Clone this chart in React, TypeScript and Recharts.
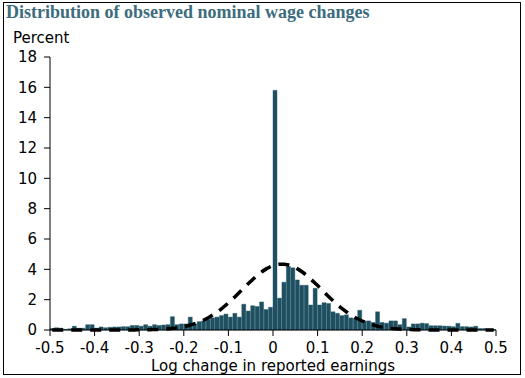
import React from "react";
import { ComposedChart, Bar, Line, XAxis, YAxis } from "recharts";

// bins of width 0.01 from -0.50 to 0.49 (left edges), values in percent
const binShares = [
  0.1, 0.15, 0.12, 0.05, 0.08, 0.25, 0.12, 0.12, 0.35, 0.35,
  0.12, 0.2, 0.15, 0.18, 0.2, 0.2, 0.22, 0.22, 0.3, 0.3,
  0.25, 0.35, 0.25, 0.35, 0.3, 0.33, 0.35, 0.88, 0.35, 0.4,
  0.4, 0.85, 0.4, 0.55, 0.6, 0.7, 0.8, 0.85, 0.95, 1.05,
  0.85, 1.1, 0.85, 1.7, 1.25, 1.6, 1.55, 1.85, 1.35, 1.5,
  15.8, 2.1, 3.15, 4.2, 4.1, 3.3, 2.95, 2.95, 1.65, 2.75,
  1.65, 1.8, 1.75, 1.2, 1.1, 0.95, 1.0, 0.8, 0.75, 1.3,
  0.6, 0.6, 0.5, 1.2, 0.5, 0.45, 0.6, 0.6, 0.35, 0.75,
  0.2, 0.4, 0.4, 0.45, 0.42, 0.28, 0.28, 0.28, 0.26, 0.25,
  0.22, 0.44, 0.22, 0.22, 0.2, 0.25, 0.1, 0.1, 0.05, 0.03,
];

// dashed reference curve, read at the same bin centres
const curveShares = [
  0, 0, 0, 0, 0, 0, 0, 0, 0, 0,
  0, 0, 0, 0, 0, 0, 0, 0, 0, 0.01,
  0.01, 0.01, 0.02, 0.03, 0.04, 0.06, 0.08, 0.11, 0.14, 0.19,
  0.25, 0.33, 0.42, 0.53, 0.66, 0.81, 0.99, 1.19, 1.41, 1.66,
  1.92, 2.2, 2.49, 2.79, 3.07, 3.35, 3.61, 3.84, 4.03, 4.19,
  4.29, 4.34, 4.34, 4.29, 4.19, 4.03, 3.84, 3.61, 3.35, 3.07,
  2.79, 2.49, 2.2, 1.92, 1.66, 1.41, 1.19, 0.99, 0.81, 0.66,
  0.53, 0.42, 0.33, 0.25, 0.19, 0.14, 0.11, 0.08, 0.06, 0.04,
  0.03, 0.02, 0.01, 0.01, 0.01, 0, 0, 0, 0, 0,
  0, 0, 0, 0, 0, 0, 0, 0, 0, 0,
];

const xTicks = [-0.5, -0.4, -0.3, -0.2, -0.1, 0, 0.1, 0.2, 0.3, 0.4, 0.5];
const yTicks = [0, 2, 4, 6, 8, 10, 12, 14, 16, 18];

const data = binShares.map((v, i) => ({
  x: Math.round((-0.495 + i * 0.01) * 1000) / 1000,
  pct: v,
  curve: curveShares[i],
}));

const font = "'DejaVu Sans', Verdana, sans-serif";

export default function App() {
  return (
    <div style={{ position: "absolute", left: 0, top: 0, width: 525, height: 378, background: "#fff" }}>
      <div
        style={{
          position: "absolute", left: 3, top: 2, width: 516, height: 371,
          border: "1px solid #000",
        }}
      />
      <div
        style={{
          position: "absolute", left: 6, top: 2,
          fontFamily: "'Liberation Serif', serif", fontWeight: 700, fontSize: 18,
          color: "#3c6c7e", whiteSpace: "nowrap",
        }}
      >
        Distribution of observed nominal wage changes
      </div>
      <div style={{ position: "absolute", left: 13, top: 29, fontFamily: font, fontSize: 15, color: "#000" }}>
        Percent
      </div>
      <div
        style={{
          position: "absolute", left: 50, width: 446, top: 359, textAlign: "center",
          fontFamily: font, fontSize: 15, lineHeight: "14px", color: "#000", whiteSpace: "nowrap",
        }}
      >
        Log change in reported earnings
      </div>
      <div style={{ position: "absolute", left: 0, top: 0 }}>
        <ComposedChart
          width={525}
          height={378}
          data={data}
          margin={{ top: 57, right: 29, left: 10, bottom: 28 }}
          barCategoryGap={0}
          barGap={0}
        >
          <XAxis
            dataKey="x"
            type="number"
            domain={[-0.5, 0.5]}
            ticks={xTicks}
            height={20}
            tickSize={6}
            tickMargin={6}
            axisLine={{ stroke: "#000" }}
            tickLine={{ stroke: "#000" }}
            tick={{ fill: "#000", fontSize: 15, fontFamily: font }}
            tickFormatter={(v) => String(v)}
          />
          <YAxis
            type="number"
            domain={[0, 18]}
            ticks={yTicks}
            width={40}
            tickSize={6}
            tickMargin={7}
            axisLine={{ stroke: "#000" }}
            tickLine={{ stroke: "#000" }}
            tick={{ fill: "#000", fontSize: 15, fontFamily: font }}
          />
          <Bar dataKey="pct" fill="#1f5061" stroke="#1f5061" strokeWidth={0.4} isAnimationActive={false} />
          <Line
            dataKey="curve"
            type="monotone"
            stroke="#000"
            strokeWidth={3.5}
            strokeDasharray="11 8"
            dot={false}
            activeDot={false}
            isAnimationActive={false}
          />
        </ComposedChart>
      </div>
    </div>
  );
}
